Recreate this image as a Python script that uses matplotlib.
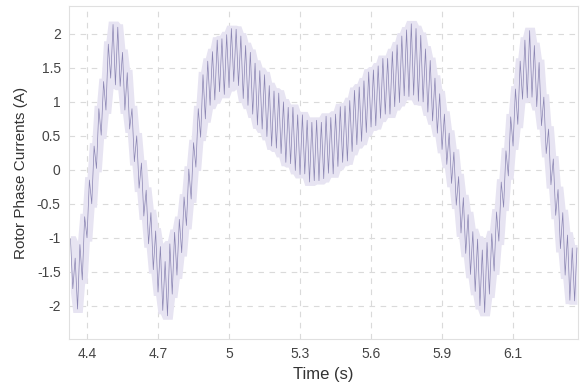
import numpy as np
import pandas as pd
import matplotlib
matplotlib.use("Agg")
import matplotlib.pyplot as plt

# rotor phase current (one value every 10 ms)
current = [
    -1.02, -1.75, -1.30, -2.05, -1.10, -1.62, -0.69, -1.00, -0.15, -0.50,
    0.35, 0.02, 0.90, 0.51, 1.30, 0.88, 1.85, 1.35, 2.14, 1.25,
    2.10, 1.23, 1.73, 0.88, 1.43, 0.60, 0.90, 0.12, 0.50, -0.27,
    0.10, -0.68, -0.30, -1.09, -0.63, -1.47, -0.90, -1.80, -1.13, -2.07,
    -1.35, -2.15, -1.09, -1.83, -0.92, -1.55, -0.73, -1.22, -0.40, -0.82,
    0.01, -0.43, 0.40, 0.04, 0.90, 0.48, 1.40, 0.75, 1.60, 0.95,
    1.74, 1.03, 1.91, 1.15, 1.93, 1.11, 1.99, 1.21, 2.08, 1.30,
    2.07, 1.24, 1.97, 1.05, 1.83, 0.95, 1.73, 0.82, 1.57, 0.66,
    1.46, 0.60, 1.40, 0.49, 1.24, 0.35, 1.16, 0.32, 1.13, 0.24,
    1.00, 0.11, 0.92, 0.09, 0.92, -0.01, 0.81, -0.07, 0.81, -0.06,
    0.73, -0.18, 0.70, -0.16, 0.73, -0.16, 0.70, -0.13, 0.79, -0.05,
    0.77, -0.06, 0.82, 0.05, 0.93, 0.11, 0.94, 0.13, 1.02, 0.27,
    1.17, 0.37, 1.22, 0.42, 1.31, 0.55, 1.44, 0.63, 1.47, 0.65,
    1.53, 0.76, 1.64, 0.82, 1.64, 0.82, 1.74, 0.93, 1.84, 0.99,
    1.97, 1.09, 2.06, 1.08, 2.15, 1.10, 2.08, 1.01, 1.98, 1.00,
    1.78, 0.85, 1.61, 0.72, 1.35, 0.54, 1.12, 0.30, 0.82, 0.08,
    0.54, -0.20, 0.26, -0.52, -0.10, -0.93, -0.41, -1.23, -0.66, -1.54,
    -0.91, -1.79, -1.02, -2.00, -1.18, -2.10, -1.07, -1.83, -0.94, -1.49,
    -0.62, -1.05, -0.18, -0.55, 0.28, -0.09, 0.78, 0.35, 1.19, 0.67,
    1.60, 1.04, 1.91, 1.06, 2.05, 1.07, 1.83, 0.93, 1.58, 0.65,
    1.07, 0.24, 0.60, -0.22, 0.16, -0.67, -0.29, -1.16, -0.63, -1.55,
    -0.96, -1.92, -1.15, -1.93, -1.15,
]
time = np.linspace(4.33, 6.47, len(current))

xticks = [4.4, 4.7, 5.0, 5.3, 5.6, 5.9, 6.2]
xtick_labels = ["4.4", "4.7", "5", "5.3", "5.6", "5.9", "6.1"]
yticks = [-2, -1.5, -1, -0.5, 0, 0.5, 1, 1.5, 2]
ytick_labels = ["-2", "-1.5", "-1", "-0.5", "0", "0.5", "1", "1.5", "2"]

plt.rcParams["font.family"] = ["Liberation Sans", "DejaVu Sans"]

fig = plt.figure(figsize=(5.82, 3.83), dpi=100)
ax = fig.add_axes([0.1186, 0.115, 0.8744, 0.869])

# light haze around the trace, from the local spread of the samples
s = pd.Series(current)
upper = s.rolling(5, center=True, min_periods=1).max() + 0.05
lower = s.rolling(5, center=True, min_periods=1).min() - 0.05
ax.fill_between(time, lower, upper, color="#e7e4f2", linewidth=0)
ax.plot(time, current, color="#4d4688", linewidth=0.5, alpha=0.6)

ax.set_xlim(4.324, 6.474)
ax.set_ylim(-2.49, 2.41)
ax.set_xticks(xticks)
ax.set_xticklabels(xtick_labels)
ax.set_yticks(yticks)
ax.set_yticklabels(ytick_labels)
ax.grid(True, linestyle=(0, (5, 5)), color="#dadada", linewidth=0.8)
ax.set_axisbelow(True)
ax.tick_params(length=0, labelsize=10, colors="#444444", pad=6)
for sp in ax.spines.values():
    sp.set_color("#e0e0e0")
    sp.set_linewidth(0.8)

ax.set_xlabel("Time (s)", fontsize=12, color="#333333", labelpad=4)
ax.set_ylabel("Rotor Phase Currents (A)", fontsize=11, color="#333333", labelpad=6)

fig.savefig("out.png", dpi=100)
